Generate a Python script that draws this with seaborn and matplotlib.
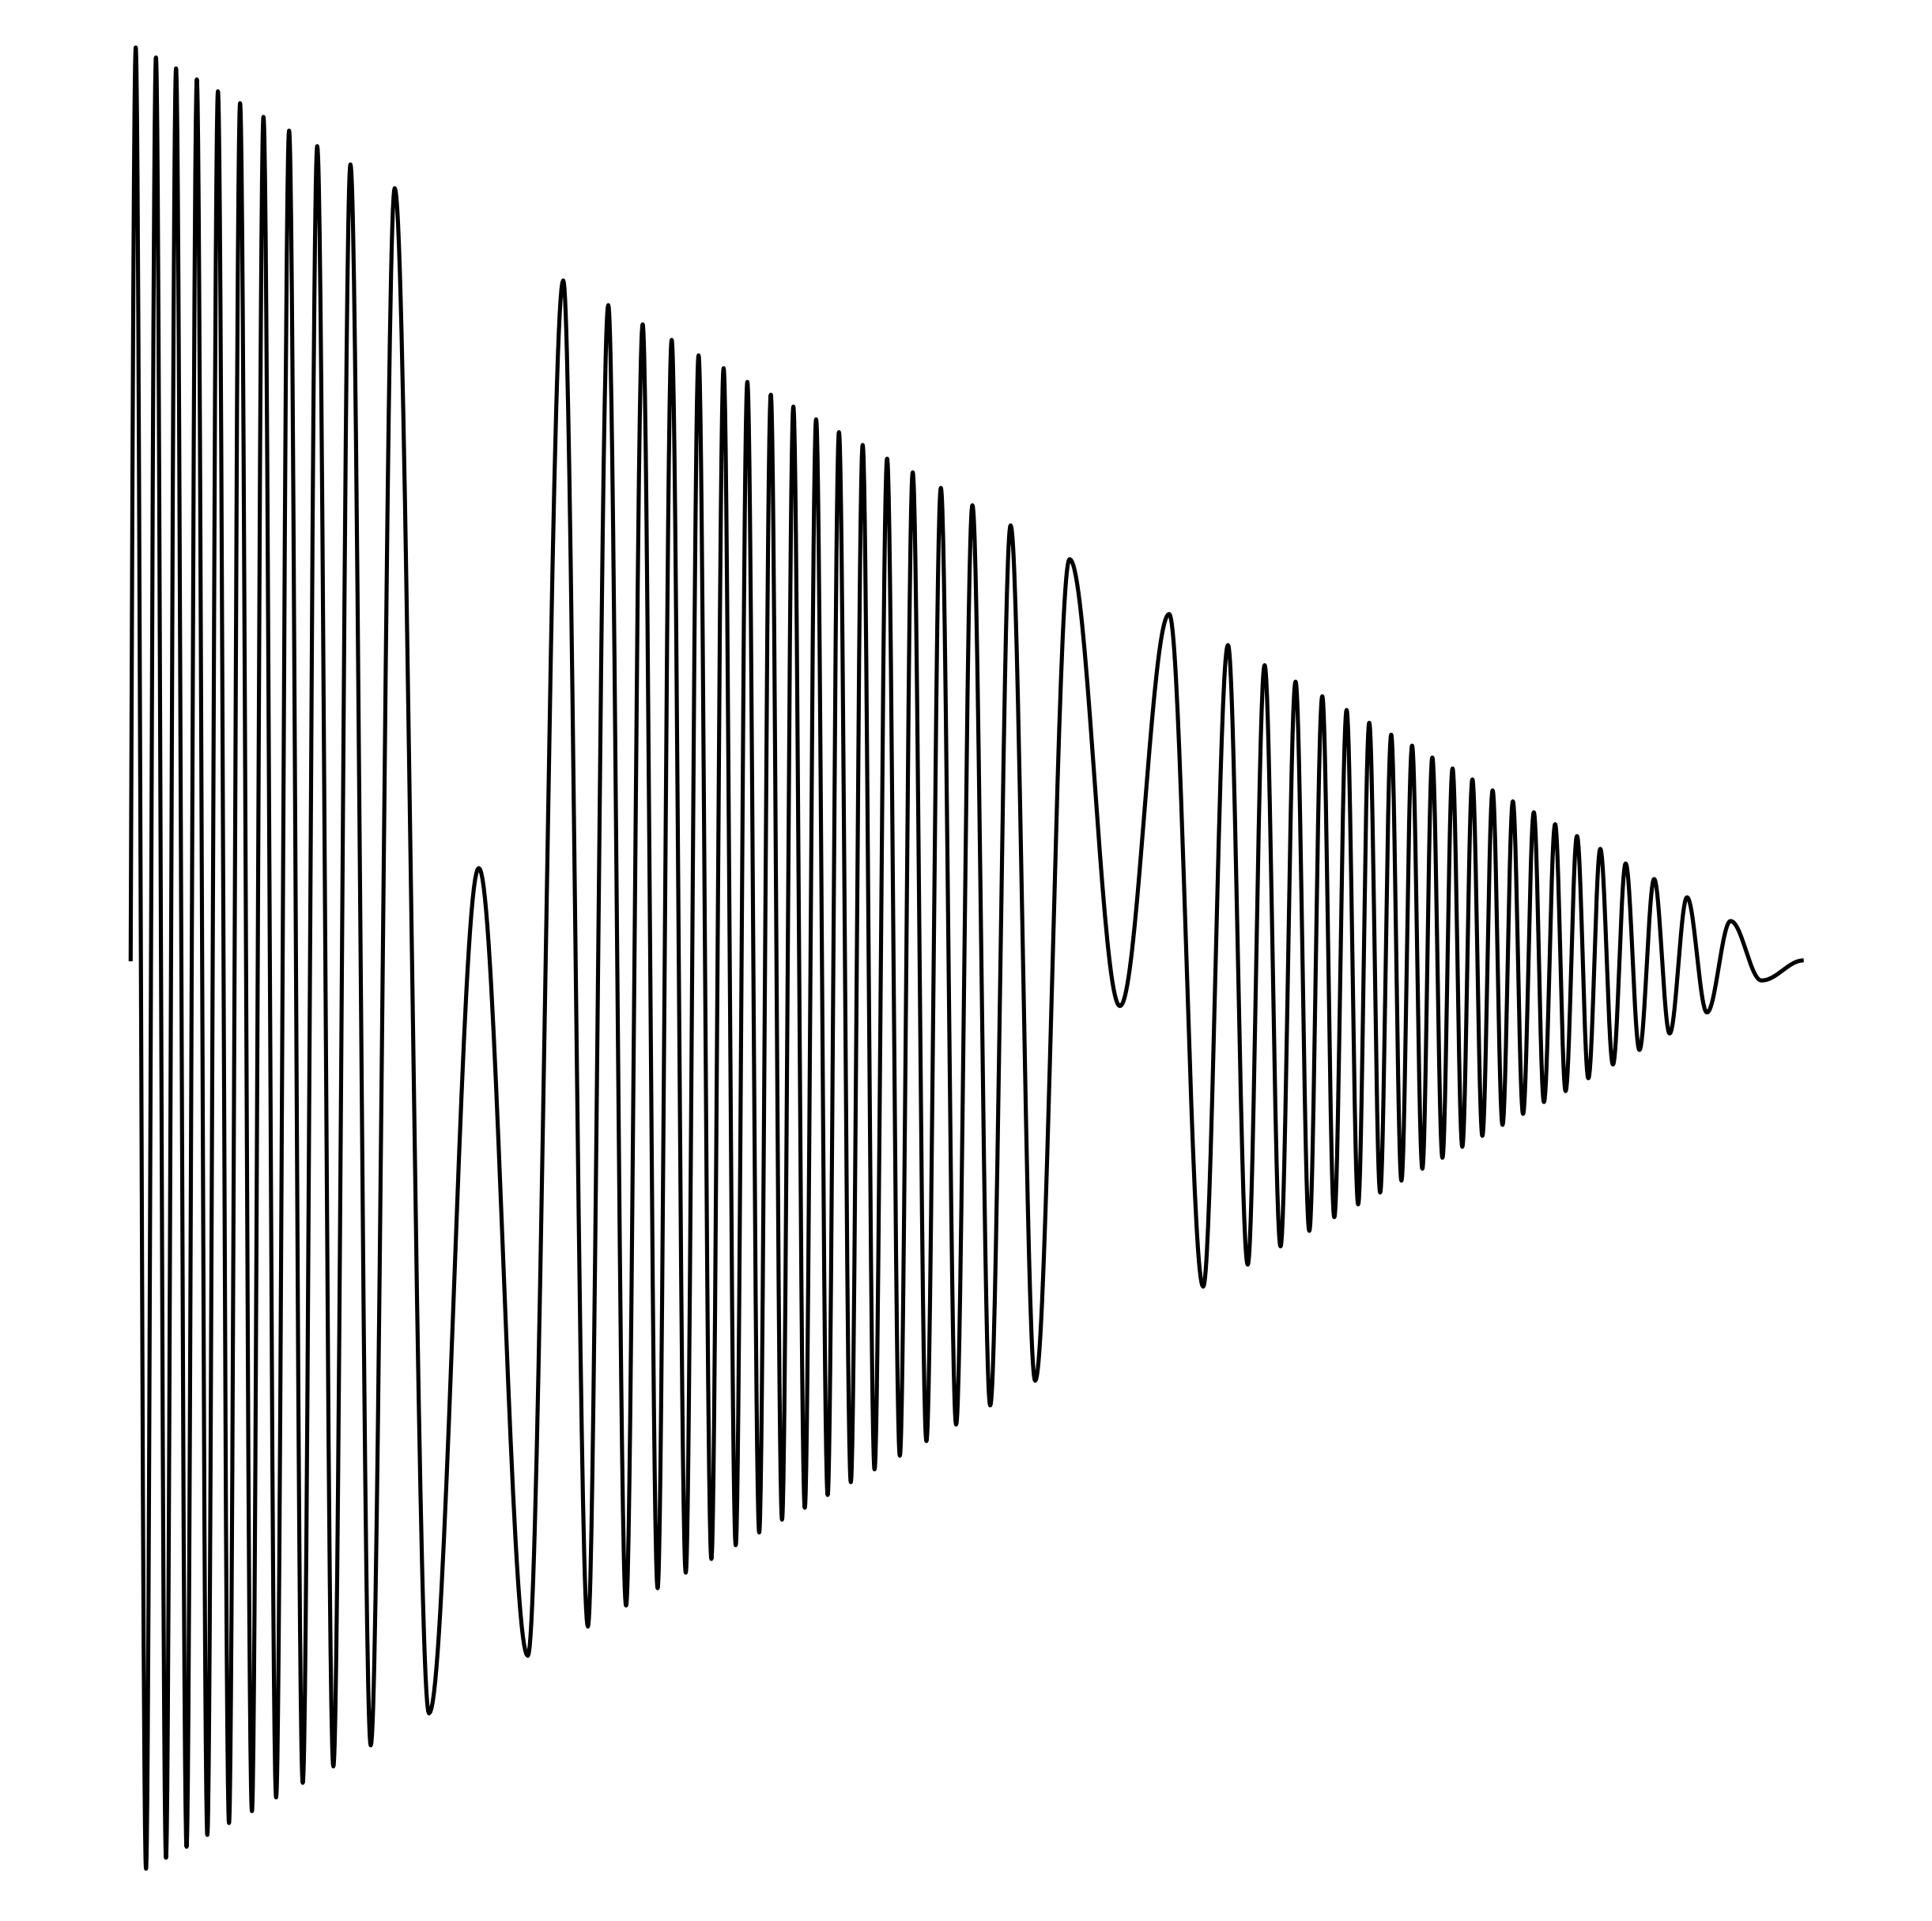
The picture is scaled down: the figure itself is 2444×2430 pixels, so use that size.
import numpy as np
import pandas as pd
import matplotlib
matplotlib.use("Agg")
import matplotlib.pyplot as plt
import seaborn as sns

# Turning points of the waveform (time, amplitude).
# Burst 1: starts at the zero crossing, ends after the first slow swing.
burst1_t = [0.0, 0.302, 0.917, 1.512, 2.112, 2.712, 3.341, 3.955, 4.583, 5.216,
            5.878, 6.539, 7.248, 7.938, 8.694, 9.469, 10.286, 11.151, 12.115,
            13.136, 14.350, 15.782, 17.832, 20.809, 23.738]
burst1_v = [0.0, 1.000, -0.993, 0.989, -0.981, 0.977, -0.969, 0.965, -0.956, 0.952,
            -0.943, 0.939, -0.930, 0.924, -0.915, 0.909, -0.899, 0.892, -0.881,
            0.872, -0.858, 0.846, -0.823, 0.102, -0.760]

# Burst 2
burst2_t = [25.855, 27.329, 28.548, 29.611, 30.604, 31.497, 32.338, 33.179, 33.945,
            34.710, 35.442, 36.165, 36.860, 37.569, 38.263, 38.934, 39.610, 40.295,
            40.971, 41.661, 42.337, 43.045, 43.754, 44.463, 45.214, 45.975, 46.745,
            47.563, 48.427, 49.339, 50.313, 51.376, 52.595, 54.064, 56.120, 59.130,
            62.073, 64.105]
burst2_v = [0.745, -0.728, 0.718, -0.705, 0.697, -0.686, 0.680, -0.669, 0.663,
            -0.654, 0.649, -0.639, 0.634, -0.625, 0.620, -0.611, 0.607, -0.598,
            0.593, -0.584, 0.579, -0.570, 0.565, -0.556, 0.550, -0.541, 0.535,
            -0.525, 0.518, -0.507, 0.499, -0.486, 0.477, -0.459, 0.440, -0.049,
            0.380, -0.356]

# Burst 3 (fades out)
burst3_t = [65.588, 66.769, 67.780, 68.730, 69.628, 70.450, 71.225, 71.943, 72.680,
            73.370, 74.032, 74.684, 75.345, 75.955, 76.593, 77.207, 77.802, 78.407,
            79.012, 79.593, 80.198, 80.793, 81.407, 81.998, 82.617, 83.226, 83.869,
            84.474, 85.142, 85.768, 86.449, 87.129, 87.843, 88.599, 89.359, 90.182,
            91.061, 91.987, 93.026, 94.217, 95.630, 97.478, 100.0]
burst3_v = [0.346, -0.332, 0.324, -0.312, 0.306, -0.295, 0.290, -0.280, 0.275,
            -0.266, 0.261, -0.253, 0.248, -0.240, 0.236, -0.227, 0.223, -0.215,
            0.211, -0.203, 0.199, -0.191, 0.187, -0.179, 0.175, -0.167, 0.163,
            -0.154, 0.150, -0.142, 0.137, -0.128, 0.123, -0.113, 0.107, -0.097,
            0.090, -0.079, 0.070, -0.056, 0.044, -0.021, 0.001]

key_t = np.array(burst1_t + burst2_t + burst3_t)
key_v = np.array(burst1_v + burst2_v + burst3_v)

# Smooth rendering of the line between turning points (sinusoidal easing,
# like a "smooth" line interpolation option of a chart library).
ts, vs = [], []
n = 40
for i in range(len(key_t) - 1):
    t0, t1 = key_t[i], key_t[i + 1]
    v0, v1 = key_v[i], key_v[i + 1]
    s = np.linspace(0, 1, n, endpoint=False)
    if i == 0:
        w = np.sin(np.pi / 2 * s)          # leaves the zero crossing steeply
    else:
        w = (1 - np.cos(np.pi * s)) / 2    # turning point to turning point
    ts.append(t0 + (t1 - t0) * s)
    vs.append(v0 + (v1 - v0) * w)
ts.append([key_t[-1]])
vs.append([key_v[-1]])
df = pd.DataFrame({"t": np.concatenate(ts), "v": np.concatenate(vs)})

sns.set_style("white")
fig = plt.figure(figsize=(12.22, 12.15), dpi=200)
ax = fig.add_axes([0, 0, 1, 1])
sns.lineplot(data=df, x="t", y="v", sort=False, estimator=None, ax=ax,
             color="black", linewidth=1.85, solid_capstyle="butt")
ax.set_xlim(-7.810, 107.669)
ax.set_ylim(-1.0502, 1.0519)
ax.axis("off")
fig.savefig("out.png", dpi=200, facecolor="white")
